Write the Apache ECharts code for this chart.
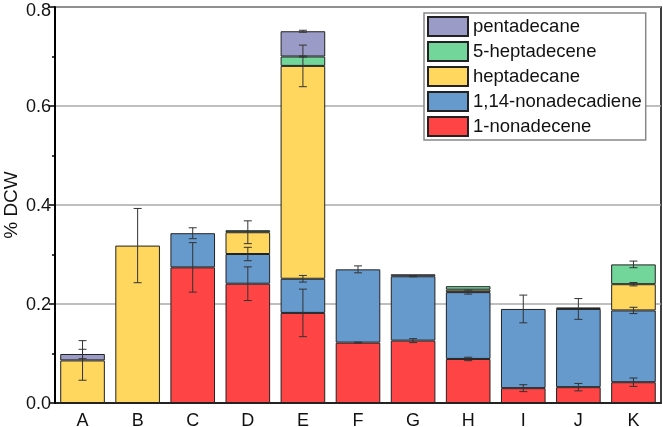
<!DOCTYPE html>
<html>
<head>
<meta charset="utf-8">
<script src="https://cdn.jsdelivr.net/npm/echarts@6/dist/echarts.min.js"></script>
<style>
html,body{margin:0;padding:0;background:#fff;}
#chart{width:663px;height:427px;}
</style>
</head>
<body>
<div id="chart"></div>
<script>
var categories=['A','B','C','D','E','F','G','H','I','J','K'];
var seriesNames=['1-nonadecene','1,14-nonadecadiene','heptadecane','5-heptadecene','pentadecane'];
// values (% DCW), bottom segment first
var nonadecene=[null,null,0.274,0.241,0.182,0.122,0.126,0.089,0.030,0.032,0.042];
var nonadecadiene=[null,null,0.069,0.060,0.069,0.148,0.130,0.135,0.160,0.158,0.145];
var heptadecane=[0.086,0.318,null,0.044,0.430,null,null,0.005,null,null,0.053];
var heptadecene5=[null,null,null,0.004,0.019,null,null,0.007,null,null,0.040];
var pentadecane=[0.013,null,null,null,0.051,null,0.004,null,null,0.003,null];
// error bar half widths
var errNonadecene=[null,null,0.050,0.034,0.048,0.001,0.004,0.0035,0.007,0.0075,0.0085];
var errNonadecadiene=[null,null,0.011,0.0135,0.0067,0.007,0.001,0.004,0.028,0.021,0.0064];
var errHeptadecane=[0.040,0.075,null,0.023,0.042,null,null,null,null,null,0.0034];
var errHeptadecene5=[null,null,null,null,0.001,null,null,null,null,null,0.0067];
var errPentadecane=[0.0095,null,null,null,0.002,null,null,null,null,null,null];
var colors=['#fe4444','#6699cc','#ffd75e','#72d69b','#9b9bc7'];

var values=[nonadecene,nonadecadiene,heptadecane,heptadecene5,pentadecane];
var errs=[errNonadecene,errNonadecadiene,errHeptadecane,errHeptadecene5,errPentadecane];

function init(){
	var series=[];
	for(var s=0;s<values.length;s++){
		series.push({
			name:seriesNames[s],
			type:'bar',
			stack:'total',
			barCategoryGap:'19%',
			itemStyle:{color:colors[s],borderColor:'#222',borderWidth:1},
			data:values[s].map(function(v){return v===null?'-':v;})
		});
	}
	// error bars sit on top of each segment
	var errData=[];
	for(var i=0;i<categories.length;i++){
		var top=0;
		for(var s=0;s<values.length;s++){
			if(values[s][i]!==null){
				top+=values[s][i];
				if(errs[s][i]!==null) errData.push([i,top,errs[s][i]]);
			}
		}
	}
	series.push({
		type:'custom',
		z:10,
		silent:true,
		data:errData,
		renderItem:function(params,api){
			var x=api.value(0),y=api.value(1),e=api.value(2);
			var hi=api.coord([x,y+e]),lo=api.coord([x,y-e]);
			var w=4;
			var st={stroke:'#333',lineWidth:1};
			return {type:'group',children:[
				{type:'line',shape:{x1:hi[0],y1:hi[1],x2:lo[0],y2:lo[1]},style:st},
				{type:'line',shape:{x1:hi[0]-w,y1:hi[1],x2:hi[0]+w,y2:hi[1]},style:st},
				{type:'line',shape:{x1:lo[0]-w,y1:lo[1],x2:lo[0]+w,y2:lo[1]},style:st}
			]};
		}
	});

	var option={
		animation:false,
		grid:{left:55,right:2,top:7,bottom:24,outerBoundsMode:'none',show:true,borderColor:'#000',borderWidth:1.5,backgroundColor:'transparent'},
		legend:{
			orient:'vertical',
			left:424,
			top:13,
			data:seriesNames.slice().reverse(),
			itemWidth:40,
			itemHeight:19,
			itemGap:4,
			padding:[3,4,3,3],
			borderColor:'#888',
			borderWidth:1.5,
			backgroundColor:'#fff',
			icon:'rect',
			textStyle:{fontFamily:'Liberation Sans',fontSize:18.5,color:'#111'}
		},
		xAxis:{
			type:'category',
			data:categories,
			axisLine:{lineStyle:{color:'#000',width:1.5}},
			axisTick:{show:false},
			axisLabel:{fontFamily:'Liberation Sans',fontSize:18,color:'#111',margin:9}
		},
		yAxis:{
			type:'value',
			min:0,
			max:0.8,
			interval:0.2,
			name:'% DCW',
			nameLocation:'middle',
			nameRotate:90,
			nameGap:34,
			nameMoveOverlap:false,
			nameTextStyle:{fontFamily:'Liberation Sans',fontSize:19,color:'#111'},
			axisLine:{show:true,lineStyle:{color:'#000',width:2}},
			axisTick:{show:true,length:6,lineStyle:{color:'#000',width:1.5}},
			minorTick:{show:true,splitNumber:2,length:3,lineStyle:{color:'#000',width:1.5}},
			axisLabel:{
				fontFamily:'Liberation Sans',fontSize:18,color:'#111',margin:4,padding:[3,0,0,0],
				formatter:function(v){return v>=0.8?'{t|'+v.toFixed(1)+'}':v.toFixed(1);},
				rich:{t:{fontFamily:'Liberation Sans',fontSize:18,color:'#111',padding:[5,0,0,0]}}
			},
			splitLine:{lineStyle:{color:'#aaa',width:1.5}}
		},
		series:series
	};
	var myChart=echarts.init(document.getElementById('chart'));
	myChart.setOption(option);
}
init();
</script>
</body>
</html>
